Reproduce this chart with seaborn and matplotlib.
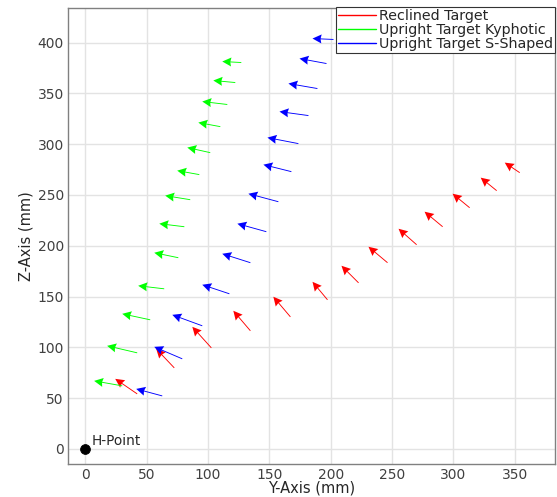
import numpy as np
import matplotlib
matplotlib.use("Agg")
import matplotlib.pyplot as plt
import seaborn as sns
from matplotlib.lines import Line2D

# arrow tails (Y, Z) and vectors (dY, dZ) in mm
red_y = [42.4, 72.6, 102.8, 134.6, 167.2, 197.4, 222.7, 246.3, 270.0, 291.2, 313.2, 335.2, 354.0]
red_z = [54.2, 79.8, 99.5, 116.3, 130.0, 146.8, 163.5, 183.3, 201.0, 218.7, 237.4, 254.2, 271.9]
red_dy = [-17.9, -14.7, -15.5, -13.9, -13.9, -12.2, -13.9, -15.5, -14.7, -14.7, -13.9, -13.0, -12.2]
red_dz = [14.8, 18.7, 20.7, 19.7, 19.8, 17.7, 16.8, 15.7, 15.7, 14.8, 13.8, 12.8, 9.9]

green_y = [30.2, 42.4, 53.0, 64.4, 75.9, 80.8, 85.6, 93.0, 101.9, 110.1, 115.8, 122.3, 127.2]
green_z = [62.1, 94.6, 127.1, 157.6, 188.2, 218.7, 245.3, 270.0, 291.6, 317.2, 339.0, 360.6, 380.3]
green_dy = [-22.9, -24.5, -22.8, -21.2, -19.6, -20.4, -20.4, -18.0, -18.7, -17.9, -20.4, -17.9, -15.5]
green_dz = [4.9, 6.9, 5.9, 3.0, 4.9, 3.0, 4.0, 3.9, 5.0, 4.0, 2.9, 2.0, 1.0]

blue_y = [62.8, 79.1, 95.4, 117.5, 134.6, 147.6, 157.4, 168.0, 173.7, 181.9, 189.2, 196.6, 202.3]
blue_z = [52.2, 88.7, 121.2, 152.7, 183.3, 213.8, 243.3, 272.9, 300.5, 328.1, 354.7, 379.3, 403.0]
blue_dy = [-21.2, -22.8, -24.4, -22.1, -22.9, -23.6, -24.4, -22.8, -25.2, -23.6, -23.6, -22.0, -17.1]
blue_dz = [6.9, 11.8, 10.8, 8.9, 8.8, 7.9, 7.9, 6.9, 5.9, 3.9, 4.9, 4.9, 0.9]

labels = ["Reclined Target", "Upright Target Kyphotic", "Upright Target S-Shaped"]
colors = ["#ff0000", "#00ff00", "#0000ff"]

sns.set_style("whitegrid")
plt.rcParams["font.family"] = ["DejaVu Sans"]

fig = plt.figure(figsize=(5.57, 4.97), dpi=100)
ax = fig.add_axes([0.122, 0.066, 0.875, 0.918])

series = [(red_y, red_z, red_dy, red_dz), (green_y, green_z, green_dy, green_dz),
          (blue_y, blue_z, blue_dy, blue_dz)]
for (y, z, dy, dz), c in zip(series, colors):
    ax.quiver(y, z, dy, dz, color=c, angles="xy", scale_units="xy", scale=1,
              units="dots", width=0.9, headwidth=10, headlength=10, headaxislength=9,
              zorder=3)

sns.scatterplot(x=[0], y=[0], color="black", s=50, ax=ax, zorder=4, edgecolor="black")
ax.text(5, 4, "H-Point", fontsize=9.8, color="#262626")

ax.set_xlim(-14, 383)
ax.set_ylim(-15, 434)
ax.set_xticks(np.arange(0, 351, 50))
ax.set_yticks(np.arange(0, 401, 50))
ax.set_xlabel("Y-Axis (mm)", fontsize=10.5, color="#262626", labelpad=-1)
ax.set_ylabel("Z-Axis (mm)", fontsize=10.5, color="#262626", labelpad=3)
ax.tick_params(direction="in", length=4, labelsize=10, colors="#404040", pad=3)
ax.grid(True, color="#e3e3e3", linewidth=1)
for s in ax.spines.values():
    s.set_color("#808080")
    s.set_linewidth(1)

handles = [Line2D([0], [0], color=c, lw=1) for c in colors]
leg = ax.legend(handles, labels, loc="upper right", bbox_to_anchor=(1.0, 1.002),
                fontsize=10.3, frameon=True, fancybox=False, borderpad=0.15,
                labelspacing=0.0, handlelength=2.6, handletextpad=0.25,
                borderaxespad=0)
leg.get_frame().set_edgecolor("#333333")
leg.get_frame().set_linewidth(0.8)
leg.get_frame().set_alpha(1)

fig.savefig("out.png", dpi=100)
